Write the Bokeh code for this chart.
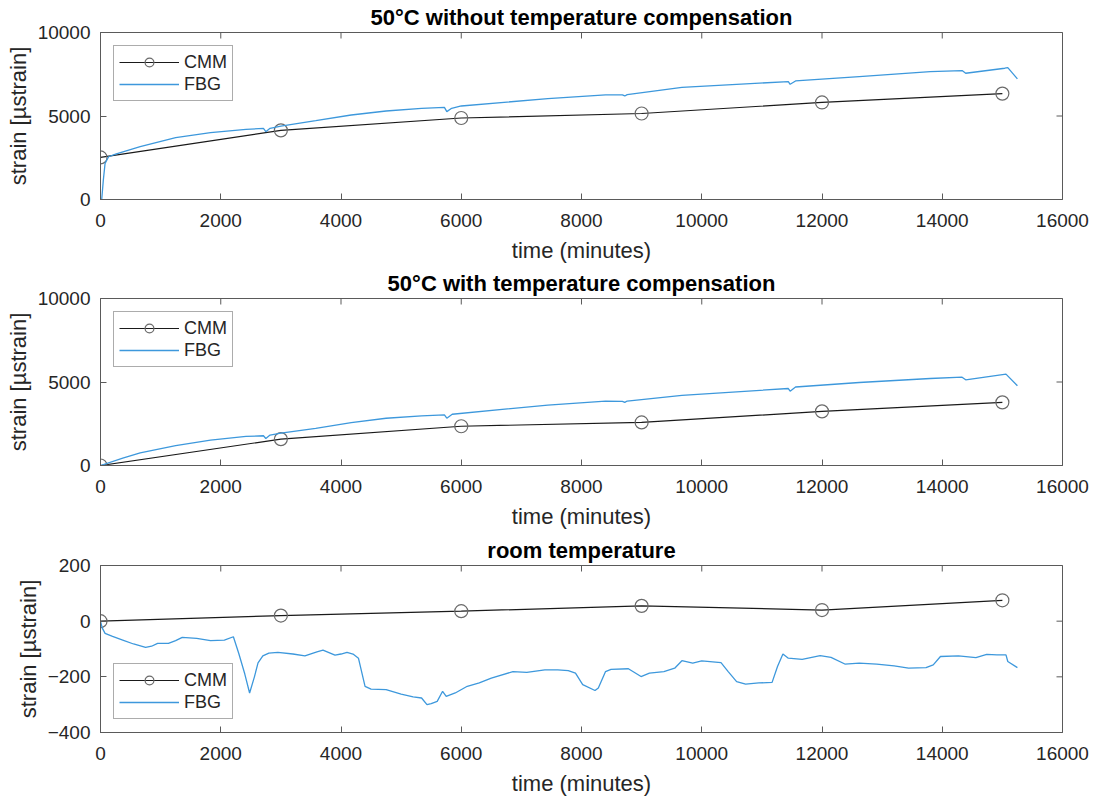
import math
from bokeh.plotting import figure
from bokeh.models import FixedTicker, Range1d, Legend, LegendItem
from bokeh.layouts import column
from bokeh.embed import file_html
from bokeh.resources import INLINE

FONT = "Liberation Sans"

x_ticks = [0, 2000, 4000, 6000, 8000, 10000, 12000, 14000, 16000]

# CMM measurements
cmm_t = [0, 3000, 6000, 9000, 12000, 15000]
cmm_nocomp = [2520, 4140, 4880, 5150, 5810, 6340]
cmm_comp = [0, 1580, 2350, 2580, 3240, 3780]
cmm_room = [0, 20, 36, 55, 40, 75]

# FBG, 50°C without temperature compensation
fbg1_t = [20, 47, 76, 135, 250, 660, 1250, 1830, 2420, 2710, 2750, 2820, 3000, 3580,
          4170, 4750, 5340, 5720, 5760, 5840, 6000, 7440, 8400, 8680, 8720, 8760,
          9670, 11440, 11470, 11560, 12620, 13800, 14330, 14390, 15040, 15090, 15250]
fbg1_v = [0, 1160, 2160, 2560, 2720, 3160, 3700, 4000, 4200, 4260, 4060, 4260, 4400, 4720,
          5060, 5300, 5460, 5520, 5260, 5460, 5600, 6040, 6260, 6260, 6200, 6280,
          6720, 7060, 6900, 7100, 7360, 7660, 7720, 7560, 7860, 7900, 7220]

# FBG, 50°C with temperature compensation
fbg2_t = [0, 370, 660, 1250, 1830, 2420, 2710, 2750, 2820, 3000, 3580, 4170, 4750,
          5340, 5720, 5760, 5850, 7440, 8400, 8680, 8720, 8760, 9670, 11440, 11470,
          11560, 12620, 13800, 14330, 14390, 15060, 15250]
fbg2_v = [0, 440, 760, 1190, 1520, 1740, 1780, 1620, 1820, 1940, 2220, 2570, 2830,
          2970, 3030, 2830, 3070, 3620, 3860, 3840, 3780, 3860, 4200, 4610, 4450,
          4700, 4970, 5210, 5290, 5130, 5470, 4780]

# FBG, room temperature
fbg3_t = [0, 30, 76, 200, 370, 550, 750, 850, 950, 1130, 1250, 1360, 1600, 1830,
          2060, 2210, 2300, 2400, 2480, 2560, 2620, 2700, 2800, 2950, 3200, 3400,
          3600, 3700, 3900, 4000, 4100, 4200, 4290, 4400, 4500, 4750, 5000, 5200,
          5340, 5430, 5500, 5600, 5690, 5750, 5900, 6100, 6300, 6500, 6860, 7090,
          7390, 7605, 7780, 7900, 8020, 8225, 8280, 8400, 8490, 8780, 8990, 9130,
          9370, 9550, 9670, 9850, 10000, 10320, 10440, 10580, 10730, 10950, 11170,
          11260, 11350, 11440, 11670, 11970, 12150, 12380, 12620, 12910, 13200,
          13440, 13730, 13850, 13970, 14270, 14560, 14740, 14910, 15060, 15090, 15250]
fbg3_v = [0, -25, -44, -55, -68, -82, -94, -90, -80, -80, -70, -58, -62, -70,
          -68, -56, -116, -190, -258, -200, -150, -125, -115, -112, -118, -125,
          -110, -104, -122, -118, -112, -118, -133, -234, -244, -246, -262, -272,
          -276, -300, -296, -288, -252, -270, -258, -234, -222, -205, -181, -184,
          -175, -175, -178, -187, -228, -249, -240, -181, -173, -171, -199, -187,
          -181, -169, -142, -151, -143, -149, -181, -217, -226, -222, -220,
          -163, -118, -133, -137, -124, -130, -154, -151, -154, -161,
          -169, -167, -157, -127, -125, -131, -119, -121, -121, -145, -167]

titles = ["50°C without temperature compensation",
          "50°C with temperature compensation",
          "room temperature"]

AX = "#5a5a5a"
TXT = "#262626"


def style_axis(ax, ticks):
    ax.ticker = FixedTicker(ticks=ticks)
    ax.major_tick_in = 6
    ax.major_tick_out = 0
    ax.minor_tick_line_color = None
    ax.major_tick_line_color = AX
    ax.axis_line_color = AX
    ax.major_label_text_font = FONT
    ax.major_label_text_color = TXT
    ax.major_label_text_font_size = "19px"
    ax.axis_label_text_font = FONT
    ax.axis_label_text_color = TXT
    ax.axis_label_text_font_style = "normal"
    ax.axis_label_text_font_size = "22px"


def make_panel(title, ft, fv, cv, yr, yticks, loc, top, bottom):
    p = figure(frame_width=962, frame_height=167,
               x_range=Range1d(0, 16000), y_range=Range1d(*yr),
               output_backend="svg", toolbar_location=None,
               min_border_left=100, min_border_right=30,
               min_border_top=top, min_border_bottom=bottom,
               title=title)
    p.title.text_font = FONT
    p.title.text_font_size = "22px"
    p.title.text_font_style = "bold"
    p.title.text_color = "#000000"
    p.title.align = "center"
    p.title.standoff = 5
    p.xgrid.grid_line_color = None
    p.ygrid.grid_line_color = None
    p.outline_line_color = AX
    p.outline_line_width = 1

    style_axis(p.xaxis[0], x_ticks)
    p.xaxis.axis_label = "time (minutes)"
    p.xaxis.major_label_standoff = 14
    p.xaxis.axis_label_standoff = 8
    style_axis(p.yaxis[0], yticks)
    p.yaxis.axis_label = "strain [µstrain]"
    p.yaxis.major_label_standoff = 10
    p.yaxis.axis_label_standoff = 4

    # mirrored inward ticks on the top and right edges of the box
    p.scatter(x_ticks, [yr[1]] * len(x_ticks), marker="dash", angle=math.pi / 2,
              size=12, line_color=AX, line_width=1)
    p.scatter([16000] * len(yticks), yticks, marker="dash",
              size=12, line_color=AX, line_width=1)

    l1 = p.line(cmm_t, cv, line_color="#1a1a1a", line_width=1.2)
    c1 = p.scatter(cmm_t, cv, marker="circle", size=13, fill_color=None,
                   line_color="#6a6a6a", line_width=1.2)
    l2 = p.line(ft, fv, line_color="#3d98dc", line_width=1.3)

    leg = Legend(items=[LegendItem(label="CMM", renderers=[l1, c1]),
                        LegendItem(label="FBG", renderers=[l2])],
                 location=loc)
    leg.margin = 13
    leg.padding = 5
    leg.spacing = 0
    leg.glyph_width = 60
    leg.glyph_height = 22
    leg.label_height = 22
    leg.label_standoff = 5
    leg.label_text_font = FONT
    leg.label_text_font_size = "18px"
    leg.label_text_color = TXT
    leg.border_line_color = AX
    leg.border_line_width = 1
    leg.background_fill_alpha = 1
    p.add_layout(leg)
    return p


p1 = make_panel(titles[0], fbg1_t, fbg1_v, cmm_nocomp, (0, 10000), [0, 5000, 10000], "top_left", 32, 66)
p2 = make_panel(titles[1], fbg2_t, fbg2_v, cmm_comp, (0, 10000), [0, 5000, 10000], "top_left", 33, 66)
p3 = make_panel(titles[2], fbg3_t, fbg3_v, cmm_room, (-400, 200), [-400, -200, 0, 200], "bottom_left", 34, 58)

layout = column(p1, p2, p3, spacing=0)
open("out.html", "w").write(file_html(layout, INLINE))
